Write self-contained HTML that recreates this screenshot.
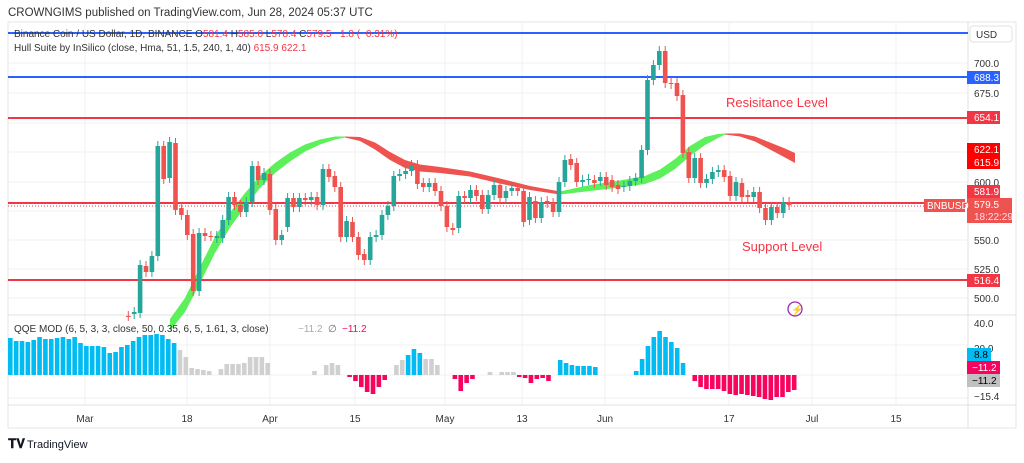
<!DOCTYPE html>
<html><head><meta charset="utf-8"><style>
body{margin:0;background:#fff;width:1024px;height:458px;overflow:hidden;font-family:"Liberation Sans",sans-serif}
svg text{font-family:"Liberation Sans",sans-serif}
</style></head><body>
<svg id="s" width="1024" height="458" xmlns="http://www.w3.org/2000/svg">
<rect width="1024" height="458" fill="#fff"/>
<text x="8" y="16" font-size="11.5" fill="#333">CROWNGIMS published on TradingView.com, Jun 28, 2024 05:37 UTC</text>
<rect x="8" y="22" width="1008" height="406" fill="none" stroke="#e6e6e6"/>
<g id="grid" stroke="#f0f0f0" stroke-width="1"></g>
<line x1="8" y1="315" x2="1016" y2="315" stroke="#e0e0e0"/>
<line x1="8" y1="405" x2="1016" y2="405" stroke="#e0e0e0"/>
<line x1="968" y1="22" x2="968" y2="428" stroke="#e0e0e0"/>
<g id="hull"></g>
<line x1="8" y1="33" x2="968" y2="33" stroke="#2962ff" stroke-width="2"/>
<line x1="8" y1="77" x2="968" y2="77" stroke="#2962ff" stroke-width="2"/>
<line x1="8" y1="118" x2="968" y2="118" stroke="#f23645" stroke-width="2"/>
<line x1="8" y1="203" x2="968" y2="203" stroke="#f23645" stroke-width="2"/>
<line x1="8" y1="280" x2="968" y2="280" stroke="#f23645" stroke-width="2"/>
<line x1="8" y1="206" x2="968" y2="206" stroke="#f23645" stroke-width="1" stroke-dasharray="1,2"/>
<g id="cand"></g>
<g id="hist"></g>
<text x="14" y="37" font-size="10" fill="#333">Binance Coin / US Dollar, 1D, BINANCE  O<tspan fill="#f23645">581.4</tspan> H<tspan fill="#f23645">585.0</tspan> L<tspan fill="#f23645">578.4</tspan> C<tspan fill="#f23645">579.5  −1.8 (−0.31%)</tspan></text>
<text x="14" y="51" font-size="10" fill="#333">Hull Suite by InSilico (close, Hma, 51, 1.5, 240, 1, 40)  <tspan fill="#f23645">615.9  622.1</tspan></text>
<text x="14" y="332" font-size="10" fill="#333">QQE MOD (6, 5, 3, 3, close, 50, 0.35, 6, 5, 1.61, 3, close)</text>
<text x="298" y="332" font-size="10" fill="#aaa">−11.2</text><text x="328" y="332" font-size="10" fill="#666">∅</text><text x="342" y="332" font-size="10" fill="#f7045e">−11.2</text>
<text x="726" y="107" font-size="13" fill="#f23645">Resisitance Level</text>
<text x="742" y="251" font-size="13" fill="#f23645">Support Level</text>
<circle cx="795" cy="309" r="7" fill="none" stroke="#9c27b0" stroke-width="1.3"/><text x="791" y="313" font-size="10" fill="#9c27b0">⚡</text>
<rect x="970" y="26" width="42" height="16" rx="3" fill="#fff" stroke="#e0e0e0"/><text x="976" y="38" font-size="10" fill="#333">USD</text>
<g font-size="10" fill="#333">
<text x="974" y="67">700.0</text><text x="974" y="97">675.0</text><text x="974" y="186">600.0</text><text x="974" y="244">550.0</text><text x="974" y="273">525.0</text><text x="974" y="302">500.0</text>
<text x="974" y="327">40.0</text><text x="974" y="352">20.0</text><text x="974" y="400">−15.4</text>
</g>
<g font-size="10" fill="#fff">
<rect x="967" y="71" width="33" height="13" fill="#2962ff"/><text x="974" y="81">688.3</text>
<rect x="967" y="111" width="33" height="13" fill="#f23645"/><text x="974" y="121">654.1</text>
<rect x="967" y="143" width="33" height="26" fill="#ff0000"/><text x="974" y="153">622.1</text><text x="974" y="166">615.9</text>
<rect x="967" y="185" width="33" height="13" fill="#f23645"/><text x="974" y="195">581.9</text>
<rect x="967" y="198" width="45" height="25" fill="#ef5350"/><text x="974" y="208">579.5</text><text x="974" y="220" fill="#fde">18:22:29</text>
<rect x="924" y="199" width="41" height="13" fill="#ef5350"/><text x="927" y="209">BNBUSD</text>
<rect x="967" y="274" width="33" height="13" fill="#f23645"/><text x="974" y="284">516.4</text>
<rect x="967" y="348" width="24" height="13" fill="#00bcf2"/><text x="974" y="358" fill="#000">8.8</text>
<rect x="967" y="361" width="33" height="13" fill="#f7045e"/><text x="972" y="371">−11.2</text>
<rect x="967" y="374" width="33" height="13" fill="#c0c0c0"/><text x="972" y="384" fill="#000">−11.2</text>
</g>
<g font-size="10" fill="#333" text-anchor="middle">
<text x="85" y="422">Mar</text><text x="187" y="422">18</text><text x="270" y="422">Apr</text><text x="355" y="422">15</text><text x="445" y="422">May</text><text x="522" y="422">13</text><text x="605" y="422">Jun</text><text x="729" y="422">17</text><text x="812" y="422">Jul</text><text x="896" y="422">15</text>
</g>
<text x="8" y="448" font-size="13" font-weight="bold" fill="#131722">𝐓𝐕</text><text x="27" y="448" font-size="11" fill="#131722">TradingView</text>
</svg>
<script>
var NS="http://www.w3.org/2000/svg";
function el(p,t,a){var e=document.createElementNS(NS,t);for(var k in a)e.setAttribute(k,a[k]);document.getElementById(p).appendChild(e);}
[85,187,270,355,445,522,605,729,812,896].forEach(function(x){el("grid","line",{x1:x,y1:22,x2:x,y2:405});});
[63,93,123,152,182,211,240,269,298,345,375,398].forEach(function(y){el("grid","line",{x1:8,y1:y,x2:968,y2:y});});
var C=[[316,316],[314,312],[313,265],[266,272],[272,256],[256,146],[146,179],[178,142],[143,210],[208,215],[215,235],[234,291],[291,233],[233,236],[236,236],[238,236],[238,220],[220,197],[197,205],[205,212],[212,202],[202,166],[166,180],[180,173],[174,210],[209,240],[240,235],[227,198],[198,207],[207,198],[198,200],[200,197],[197,205],[205,169],[169,177],[176,187],[187,237],[237,221],[222,237],[237,255],[254,260],[260,237],[237,235],[235,215],[215,206],[206,176],[176,174],[174,171],[171,165],[165,184],[183,187],[187,183],[183,191],[191,206],[206,227],[228,230],[228,196],[196,198],[198,190],[190,196],[195,209],[209,195],[195,185],[185,198],[198,191],[191,188],[188,191],[191,222],[220,197],[201,218],[218,202],[201,203],[203,212],[212,182],[182,160],[159,165],[163,182],[182,180],[180,179],[180,183],[181,177],[177,185],[180,187],[185,189],[187,186],[186,181],[181,178],[178,150],[150,80],[80,65],[65,51],[51,83],[83,84],[83,96],[95,153],[152,178],[178,158],[158,183],[183,179],[179,172],[172,170],[170,177],[176,196],[196,182],[183,197],[195,197],[197,192],[192,208],[208,220],[220,207],[207,213],[213,202],[202,205]];
C.forEach(function(c,i){var x=128.3+i*5.9,t=Math.min(c[0],c[1]),b=Math.max(c[0],c[1]),col=c[1]<c[0]?"#26a69a":"#ef5350";
el("cand","line",{x1:x,y1:t-5,x2:x,y2:b+5,stroke:col,"stroke-width":1});
el("cand","rect",{x:x-2.3,y:t,width:4.6,height:Math.max(1,b-t),fill:col});});
function band(pts,col){var up=pts.map(function(p){return p[0]+","+(p[1]-p[2]/2)}),dn=pts.slice().reverse().map(function(p){return p[0]+","+(p[1]+p[2]/2)});el("hull","polygon",{points:up.concat(dn).join(" "),fill:col});}
band([[170,325,12],[185,305,14],[200,275,16],[215,245,16],[230,220,15],[245,200,14],[260,182,12],[275,168,10],[290,157,9],[305,148,7],[320,142,5],[335,138,3],[345,137,1]],"#5cf05a");
band([[345,137,1],[360,139,4],[375,146,7],[390,156,8],[405,164,8],[420,168,7],[440,170,6],[470,174,5],[500,181,5],[530,188,4],[560,193,3]],"#ef5350");
band([[560,193,3],[590,188,6],[620,184,7],[645,180,8],[660,174,9],[675,164,10],[690,151,10],[705,141,8],[718,136,4],[725,134,1]],"#5cf05a");
band([[725,134,1],[740,135,3],[755,139,5],[770,146,7],[785,153,9],[795,158,10]],"#ef5350");
var H={};var b1=[37,34,34,33,35,38,36,36,37,38,36,38,32,29,29,29,28,22,23,28,30,34,38,40,40,41,40,36,32];
b1.forEach(function(h,i){H[i]=[h,"#00bcf2"]});
[[29,25],[30,18],[31,7],[32,6],[33,5],[34,4],[36,6],[37,11],[38,11],[39,11],[40,12],[41,18],[42,18],[43,18],[44,12],[52,4],[54,10],[55,12],[56,10],[66,10],[67,15],[71,16],[72,16],[73,10],[82,3],[84,3],[85,3],[86,3]].forEach(function(a){H[a[0]]=[a[1],"#d0d0d0"]});
[[58,-2],[59,-6],[60,-12],[61,-17],[62,-19],[63,-12],[64,-5],[76,-4],[77,-16],[78,-8],[79,-4],[87,-2],[88,-3],[89,-8],[90,-4],[91,-3],[92,-6]].forEach(function(a){H[a[0]]=[a[1],"#f7045e"]});
[[68,20],[69,26],[70,22],[94,15],[95,12],[96,10],[97,9],[98,9],[99,9],[100,8],[107,4],[108,16],[109,29],[110,38],[111,44],[112,38],[113,33],[114,27],[115,12]].forEach(function(a){H[a[0]]=[a[1],"#00bcf2"]});
[6,12,14,14,14,16,19,20,19,20,21,22,24,25,22,22,17,15].forEach(function(h,i){H[117+i]=[-h,"#f7045e"]});
for(var k in H){var x=8+k*5.85,h=H[k][0];el("hist","rect",{x:x,y:h>0?375-h:375,width:4.6,height:Math.abs(h),fill:H[k][1]});}
</script>
</body></html>
